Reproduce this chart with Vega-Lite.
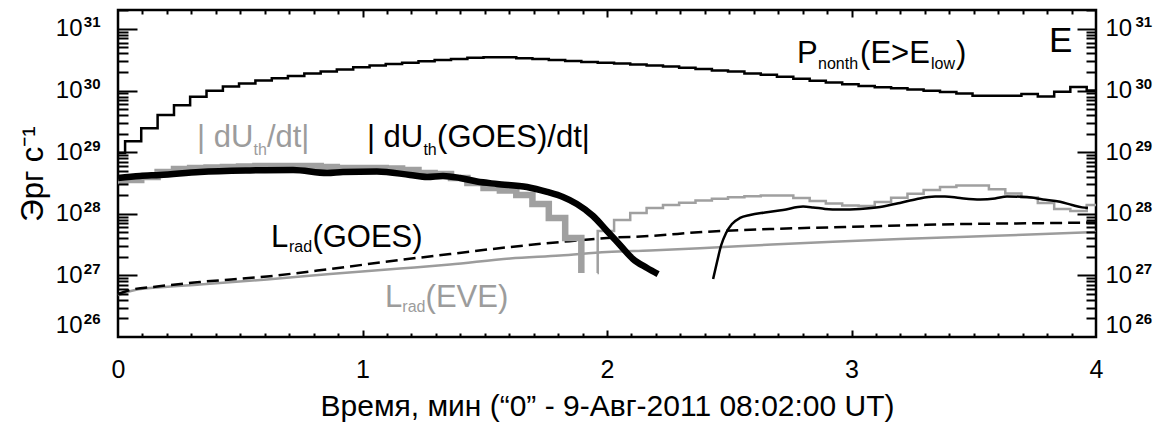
{
  "$schema": "https://vega.github.io/schema/vega-lite/v6.json",
  "width": 978,
  "height": 327,
  "autosize": {"type": "none"},
  "padding": {"left": 118, "top": 10, "right": 76, "bottom": 91},
  "background": "white",
  "config": {
    "view": {"stroke": "black", "strokeWidth": 2.5},
    "axis": {
      "grid": false,
      "domain": false,
      "labelFont": "Liberation Sans",
      "titleFont": "Liberation Sans",
      "labelColor": "black",
      "titleColor": "black",
      "tickColor": "black",
      "titleFontWeight": "normal",
      "labelOverlap": false,
      "labelFlush": false
    },
    "text": {"font": "Liberation Sans"}
  },
  "datasets": {
    "pnonth": [
      {"t": 0, "v": 9.7e28}, {"t": 0.029, "v": 1.5e29}, {"t": 0.095, "v": 2.45e29}, {"t": 0.162, "v": 4.0e29},
      {"t": 0.229, "v": 5.8e29}, {"t": 0.295, "v": 7.9e29}, {"t": 0.362, "v": 9.9e29}, {"t": 0.429, "v": 1.16e30},
      {"t": 0.495, "v": 1.3e30}, {"t": 0.562, "v": 1.45e30}, {"t": 0.629, "v": 1.58e30}, {"t": 0.695, "v": 1.73e30},
      {"t": 0.762, "v": 1.9e30}, {"t": 0.829, "v": 2.03e30}, {"t": 0.895, "v": 2.2e30}, {"t": 0.962, "v": 2.38e30},
      {"t": 1.029, "v": 2.54e30}, {"t": 1.095, "v": 2.7e30}, {"t": 1.162, "v": 2.84e30}, {"t": 1.229, "v": 2.99e30},
      {"t": 1.295, "v": 3.14e30}, {"t": 1.362, "v": 3.26e30}, {"t": 1.429, "v": 3.42e30}, {"t": 1.495, "v": 3.47e30},
      {"t": 1.562, "v": 3.47e30}, {"t": 1.629, "v": 3.34e30}, {"t": 1.695, "v": 3.26e30}, {"t": 1.762, "v": 3.14e30},
      {"t": 1.829, "v": 3.03e30}, {"t": 1.895, "v": 2.92e30}, {"t": 1.962, "v": 2.84e30}, {"t": 2.029, "v": 2.76e30},
      {"t": 2.095, "v": 2.66e30}, {"t": 2.162, "v": 2.56e30}, {"t": 2.229, "v": 2.45e30}, {"t": 2.295, "v": 2.34e30},
      {"t": 2.362, "v": 2.24e30}, {"t": 2.429, "v": 2.12e30}, {"t": 2.495, "v": 2.03e30}, {"t": 2.562, "v": 1.9e30},
      {"t": 2.629, "v": 1.8e30}, {"t": 2.695, "v": 1.67e30}, {"t": 2.762, "v": 1.55e30}, {"t": 2.829, "v": 1.44e30},
      {"t": 2.895, "v": 1.35e30}, {"t": 2.962, "v": 1.27e30}, {"t": 3.029, "v": 1.19e30}, {"t": 3.095, "v": 1.13e30},
      {"t": 3.162, "v": 1.09e30}, {"t": 3.229, "v": 1.04e30}, {"t": 3.295, "v": 9.96e29}, {"t": 3.362, "v": 9.5e29},
      {"t": 3.429, "v": 9.0e29}, {"t": 3.495, "v": 8.25e29}, {"t": 3.562, "v": 8.25e29}, {"t": 3.629, "v": 8.25e29},
      {"t": 3.695, "v": 8.8e29}, {"t": 3.762, "v": 8.0e29}, {"t": 3.829, "v": 9.6e29}, {"t": 3.895, "v": 1.14e30},
      {"t": 3.962, "v": 1.0e30}, {"t": 4.0, "v": 1.0e30}
    ],
    "dudt_rise": [
      {"t": 0, "v": 3.41e28}, {"t": 0.029, "v": 3.54e28}, {"t": 0.095, "v": 3.96e28}, {"t": 0.162, "v": 4.77e28},
      {"t": 0.229, "v": 5.34e28}, {"t": 0.295, "v": 5.54e28}, {"t": 0.362, "v": 5.65e28}, {"t": 0.429, "v": 5.75e28},
      {"t": 0.495, "v": 5.86e28}, {"t": 0.562, "v": 5.97e28}, {"t": 0.629, "v": 5.97e28}, {"t": 0.695, "v": 5.97e28},
      {"t": 0.762, "v": 5.97e28}, {"t": 0.829, "v": 5.75e28}, {"t": 0.895, "v": 5.54e28}, {"t": 0.962, "v": 5.54e28},
      {"t": 1.029, "v": 5.54e28}, {"t": 1.095, "v": 5.43e28}, {"t": 1.162, "v": 5.14e28}, {"t": 1.229, "v": 4.59e28},
      {"t": 1.295, "v": 4.43e28}, {"t": 1.362, "v": 3.81e28}, {"t": 1.429, "v": 3.16e28}, {"t": 1.495, "v": 2.62e28},
      {"t": 1.562, "v": 2.39e28}, {"t": 1.629, "v": 2.02e28}, {"t": 1.695, "v": 1.44e28}, {"t": 1.762, "v": 8.55e27},
      {"t": 1.829, "v": 4.05e27}, {"t": 1.895, "v": 1.09e27}
    ],
    "dudt_decay": [
      {"t": 1.961, "v": 1.09e27}, {"t": 1.962, "v": 5.26e27}, {"t": 2.029, "v": 7.93e27}, {"t": 2.095, "v": 1.03e28},
      {"t": 2.162, "v": 1.24e28}, {"t": 2.229, "v": 1.39e28}, {"t": 2.295, "v": 1.51e28}, {"t": 2.362, "v": 1.64e28},
      {"t": 2.429, "v": 1.76e28}, {"t": 2.495, "v": 1.85e28}, {"t": 2.562, "v": 1.92e28}, {"t": 2.629, "v": 1.98e28},
      {"t": 2.695, "v": 1.98e28}, {"t": 2.762, "v": 1.8e28}, {"t": 2.829, "v": 1.61e28}, {"t": 2.895, "v": 1.47e28},
      {"t": 2.962, "v": 1.36e28}, {"t": 3.029, "v": 1.34e28}, {"t": 3.095, "v": 1.55e28}, {"t": 3.162, "v": 1.82e28},
      {"t": 3.229, "v": 2.11e28}, {"t": 3.295, "v": 2.43e28}, {"t": 3.362, "v": 2.72e28}, {"t": 3.429, "v": 2.88e28},
      {"t": 3.495, "v": 2.88e28}, {"t": 3.562, "v": 2.5e28}, {"t": 3.629, "v": 2.14e28}, {"t": 3.695, "v": 1.84e28},
      {"t": 3.762, "v": 1.5e28}, {"t": 3.829, "v": 1.2e28}, {"t": 3.895, "v": 1.11e28}, {"t": 3.962, "v": 1.39e28},
      {"t": 4.0, "v": 1.39e28}
    ],
    "goes_rise": [
      {"t": 0, "v": 3.81e28}, {"t": 0.09, "v": 4.11e28}, {"t": 0.172, "v": 4.27e28}, {"t": 0.335, "v": 4.77e28},
      {"t": 0.54, "v": 5.05e28}, {"t": 0.716, "v": 5.14e28}, {"t": 0.855, "v": 4.6e28}, {"t": 0.92, "v": 4.77e28},
      {"t": 1.059, "v": 4.86e28}, {"t": 1.194, "v": 4.27e28}, {"t": 1.264, "v": 3.96e28}, {"t": 1.329, "v": 4.11e28},
      {"t": 1.399, "v": 3.81e28}, {"t": 1.468, "v": 3.34e28}, {"t": 1.55, "v": 3.05e28}, {"t": 1.673, "v": 2.72e28},
      {"t": 1.755, "v": 2.26e28}, {"t": 1.82, "v": 1.87e28}, {"t": 1.877, "v": 1.44e28}, {"t": 1.943, "v": 9.2e27},
      {"t": 2.0, "v": 5.26e27}, {"t": 2.053, "v": 3.12e27}, {"t": 2.106, "v": 1.85e27}, {"t": 2.164, "v": 1.32e27},
      {"t": 2.209, "v": 1.05e27}
    ],
    "goes_decay": [
      {"t": 2.434, "v": 8.75e26}, {"t": 2.45, "v": 1.65e27}, {"t": 2.466, "v": 3.0e27}, {"t": 2.487, "v": 4.88e27},
      {"t": 2.511, "v": 6.83e27}, {"t": 2.544, "v": 8.55e27}, {"t": 2.585, "v": 9.57e27}, {"t": 2.646, "v": 1.05e28},
      {"t": 2.72, "v": 1.15e28}, {"t": 2.802, "v": 1.31e28}, {"t": 2.843, "v": 1.27e28}, {"t": 2.892, "v": 1.2e28},
      {"t": 2.953, "v": 1.17e28}, {"t": 3.035, "v": 1.2e28}, {"t": 3.117, "v": 1.29e28}, {"t": 3.198, "v": 1.5e28},
      {"t": 3.268, "v": 1.74e28}, {"t": 3.342, "v": 1.91e28}, {"t": 3.382, "v": 1.91e28}, {"t": 3.444, "v": 1.8e28},
      {"t": 3.526, "v": 1.71e28}, {"t": 3.587, "v": 1.77e28}, {"t": 3.636, "v": 1.91e28}, {"t": 3.718, "v": 1.87e28},
      {"t": 3.783, "v": 1.71e28}, {"t": 3.853, "v": 1.57e28}, {"t": 3.902, "v": 1.39e28}, {"t": 3.943, "v": 1.27e28},
      {"t": 3.967, "v": 1.24e28}
    ],
    "lrad_goes": [
      {"t": 0, "v": 4.99e26}, {"t": 0.049, "v": 5.79e26}, {"t": 0.16, "v": 6.61e26}, {"t": 0.335, "v": 7.81e26},
      {"t": 0.609, "v": 9.6e26}, {"t": 0.867, "v": 1.27e27}, {"t": 1.153, "v": 1.78e27}, {"t": 1.358, "v": 2.22e27},
      {"t": 1.603, "v": 2.89e27}, {"t": 1.808, "v": 3.48e27}, {"t": 2.0, "v": 4.05e27}, {"t": 2.176, "v": 4.36e27},
      {"t": 2.393, "v": 5.07e27}, {"t": 2.675, "v": 5.67e27}, {"t": 2.924, "v": 6.04e27}, {"t": 3.198, "v": 6.46e27},
      {"t": 3.472, "v": 6.83e27}, {"t": 3.73, "v": 7.01e27}, {"t": 4.0, "v": 7.22e27}
    ],
    "lrad_eve": [
      {"t": 0, "v": 4.81e26}, {"t": 0.07, "v": 5.79e26}, {"t": 0.172, "v": 6.41e26}, {"t": 0.335, "v": 7.11e26},
      {"t": 0.609, "v": 8.58e26}, {"t": 0.867, "v": 1.05e27}, {"t": 1.153, "v": 1.29e27}, {"t": 1.358, "v": 1.5e27},
      {"t": 1.603, "v": 1.88e27}, {"t": 1.808, "v": 2.1e27}, {"t": 2.0, "v": 2.4e27}, {"t": 2.176, "v": 2.54e27},
      {"t": 2.38, "v": 2.75e27}, {"t": 2.675, "v": 3.17e27}, {"t": 2.924, "v": 3.52e27}, {"t": 3.198, "v": 3.9e27},
      {"t": 3.472, "v": 4.25e27}, {"t": 3.73, "v": 4.61e27}, {"t": 4.0, "v": 5.07e27}
    ],
    "labels": [
      {"t": 0.323, "v": 1.2e29, "text": "| dU", "kind": "grayMain"},
      {"t": 0.554, "v": 9.0e28, "text": "th", "kind": "graySub"},
      {"t": 0.609, "v": 1.2e29, "text": "/dt|", "kind": "grayMain"},
      {"t": 1.018, "v": 1.2e29, "text": "| dU", "kind": "blackMain"},
      {"t": 1.249, "v": 9.0e28, "text": "th", "kind": "blackSub"},
      {"t": 1.305, "v": 1.2e29, "text": "(GOES)/dt|", "kind": "blackMain"},
      {"t": 2.777, "v": 2.77e30, "text": "P", "kind": "blackMain"},
      {"t": 2.863, "v": 2.2e30, "text": "nonth", "kind": "blackSub"},
      {"t": 3.035, "v": 2.77e30, "text": "(E>E", "kind": "blackMain"},
      {"t": 3.325, "v": 2.2e30, "text": "low", "kind": "blackSub"},
      {"t": 3.427, "v": 2.77e30, "text": ")", "kind": "blackMain"},
      {"t": 0.626, "v": 2.92e27, "text": "L", "kind": "blackMain"},
      {"t": 0.699, "v": 2.4e27, "text": "rad", "kind": "blackSub"},
      {"t": 0.795, "v": 2.92e27, "text": "(GOES)", "kind": "blackMain"},
      {"t": 1.092, "v": 3.1e26, "text": "L", "kind": "grayMain"},
      {"t": 1.163, "v": 2.55e26, "text": "rad", "kind": "graySub"},
      {"t": 1.258, "v": 3.1e26, "text": "(EVE)", "kind": "grayMain"},
      {"t": 3.808, "v": 4.24e30, "text": "E", "kind": "panel"}
    ]
  },
  "resolve": {"axis": {"x": "independent", "y": "independent"}},
  "layer": [
    {
      "data": {"name": "lrad_eve"},
      "mark": {"type": "line", "color": "#9c9c9c", "strokeWidth": 2.5, "interpolate": "monotone"},
      "encoding": {
        "x": {"field": "t", "type": "quantitative", "scale": {"domain": [0, 4], "nice": false, "zero": false},
          "axis": {"orient": "bottom", "values": [0, 1, 2, 3, 4], "format": "d", "ticks": false, "labelFontSize": 25, "labelPadding": 20,
            "title": "Время, мин (“0” - 9-Авг-2011 08:02:00 UT)", "titleFontSize": 30, "titlePadding": 9}},
        "y": {"field": "v", "type": "quantitative", "scale": {"type": "log", "domain": [1e26, 2.03e31], "nice": false},
          "axis": {"orient": "left", "values": [1e26, 1e27, 1e28, 1e29, 1e30, 1e31], "ticks": false, "labelExpr": "'10'",
            "labelFontSize": 24, "labelPadding": 36, "labelFlush": true, "title": "Эрг с⁻¹", "titleFontSize": 31, "titlePadding": 6}}
      }
    },
    {
      "data": {"name": "lrad_goes"},
      "mark": {"type": "line", "color": "black", "strokeWidth": 2.5, "strokeDash": [12, 6], "interpolate": "monotone"},
      "encoding": {
        "x": {"field": "t", "type": "quantitative", "scale": {"domain": [0, 4], "nice": false, "zero": false},
          "axis": {"orient": "bottom", "values": [1, 2, 3], "labels": false, "tickSize": -7, "tickWidth": 2, "title": null, "zindex": 1}},
        "y": {"field": "v", "type": "quantitative", "scale": {"type": "log", "domain": [1e26, 2.03e31], "nice": false},
          "axis": {"orient": "left", "values": [1e26, 1e27, 1e28, 1e29, 1e30, 1e31], "ticks": false,
            "labelExpr": "'' + round(log(datum.value) / LN10)", "labelFontSize": 15, "labelFontWeight": "bold",
            "labelPadding": 18, "labelOffset": -7, "labelFlush": true, "labelFlushOffset": -4, "title": null}}
      }
    },
    {
      "data": {"name": "dudt_rise"},
      "mark": {"type": "line", "color": "#a0a0a0", "strokeWidth": 6.5, "interpolate": "step-after", "strokeCap": "butt"},
      "encoding": {
        "x": {"field": "t", "type": "quantitative", "scale": {"domain": [0, 4], "nice": false, "zero": false},
          "axis": {"orient": "bottom", "values": [0.1, 0.2, 0.3, 0.4, 0.5, 0.6, 0.7, 0.8, 0.9, 1.1, 1.2, 1.3, 1.4, 1.5, 1.6, 1.7, 1.8, 1.9, 2.1, 2.2, 2.3, 2.4, 2.5, 2.6, 2.7, 2.8, 2.9, 3.1, 3.2, 3.3, 3.4, 3.5, 3.6, 3.7, 3.8, 3.9],
            "labels": false, "tickSize": -4, "tickWidth": 2, "title": null, "zindex": 1}},
        "y": {"field": "v", "type": "quantitative", "scale": {"type": "log", "domain": [1e26, 2.03e31], "nice": false},
          "axis": {"orient": "left", "values": [1e27, 1e28, 1e29, 1e30, 1e31], "labels": false, "tickSize": -19, "tickWidth": 2, "title": null, "zindex": 1}}
      }
    },
    {
      "data": {"name": "dudt_decay"},
      "mark": {"type": "line", "color": "#a0a0a0", "strokeWidth": 2.5, "interpolate": "step-after", "strokeCap": "butt"},
      "encoding": {
        "x": {"field": "t", "type": "quantitative", "scale": {"domain": [0, 4], "nice": false, "zero": false},
          "axis": {"orient": "top", "values": [1, 2, 3], "labels": false, "tickSize": -7, "tickWidth": 2, "title": null, "zindex": 1}},
        "y": {"field": "v", "type": "quantitative", "scale": {"type": "log", "domain": [1e26, 2.03e31], "nice": false},
          "axis": {"orient": "left", "values": [2e26, 3e26, 4e26, 5e26, 6e26, 7e26, 8e26, 9e26, 2e27, 3e27, 4e27, 5e27, 6e27, 7e27, 8e27, 9e27, 2e28, 3e28, 4e28, 5e28, 6e28, 7e28, 8e28, 9e28, 2e29, 3e29, 4e29, 5e29, 6e29, 7e29, 8e29, 9e29, 2e30, 3e30, 4e30, 5e30, 6e30, 7e30, 8e30, 9e30, 2e31],
            "labels": false, "tickSize": -10, "tickWidth": 2, "title": null, "zindex": 1}}
      }
    },
    {
      "data": {"name": "pnonth"},
      "mark": {"type": "line", "color": "black", "strokeWidth": 2.5, "interpolate": "step-after", "strokeCap": "butt"},
      "encoding": {
        "x": {"field": "t", "type": "quantitative", "scale": {"domain": [0, 4], "nice": false, "zero": false},
          "axis": {"orient": "top", "values": [0.1, 0.2, 0.3, 0.4, 0.5, 0.6, 0.7, 0.8, 0.9, 1.1, 1.2, 1.3, 1.4, 1.5, 1.6, 1.7, 1.8, 1.9, 2.1, 2.2, 2.3, 2.4, 2.5, 2.6, 2.7, 2.8, 2.9, 3.1, 3.2, 3.3, 3.4, 3.5, 3.6, 3.7, 3.8, 3.9],
            "labels": false, "tickSize": -4, "tickWidth": 2, "title": null, "zindex": 1}},
        "y": {"field": "v", "type": "quantitative", "scale": {"type": "log", "domain": [1e26, 2.03e31], "nice": false},
          "axis": {"orient": "right", "values": [1e26, 1e27, 1e28, 1e29, 1e30, 1e31], "ticks": false, "labelExpr": "'10'",
            "labelFontSize": 24, "labelPadding": 9, "labelFlush": true, "title": null}}
      }
    },
    {
      "data": {"name": "goes_rise"},
      "mark": {"type": "line", "color": "black", "strokeWidth": 6.5, "interpolate": "monotone", "strokeCap": "butt"},
      "encoding": {
        "x": {"field": "t", "type": "quantitative", "scale": {"domain": [0, 4], "nice": false, "zero": false}, "axis": null},
        "y": {"field": "v", "type": "quantitative", "scale": {"type": "log", "domain": [1e26, 2.03e31], "nice": false},
          "axis": {"orient": "right", "values": [1e26, 1e27, 1e28, 1e29, 1e30, 1e31], "ticks": false,
            "labelExpr": "'' + round(log(datum.value) / LN10)", "labelFontSize": 15, "labelFontWeight": "bold",
            "labelPadding": 39, "labelOffset": -7, "labelFlush": true, "labelFlushOffset": -4, "title": null}}
      }
    },
    {
      "data": {"name": "goes_decay"},
      "mark": {"type": "line", "color": "black", "strokeWidth": 2.5, "interpolate": "monotone"},
      "encoding": {
        "x": {"field": "t", "type": "quantitative", "scale": {"domain": [0, 4], "nice": false, "zero": false}, "axis": null},
        "y": {"field": "v", "type": "quantitative", "scale": {"type": "log", "domain": [1e26, 2.03e31], "nice": false},
          "axis": {"orient": "right", "values": [1e27, 1e28, 1e29, 1e30, 1e31], "labels": false, "tickSize": -19, "tickWidth": 2, "title": null, "zindex": 1}}
      }
    },
    {
      "data": {"name": "labels"},
      "transform": [{"filter": "datum.kind === 'blackMain'"}],
      "mark": {"type": "text", "align": "left", "baseline": "alphabetic", "fontSize": 31, "color": "black"},
      "encoding": {
        "x": {"field": "t", "type": "quantitative", "scale": {"domain": [0, 4], "nice": false, "zero": false}, "axis": null},
        "y": {"field": "v", "type": "quantitative", "scale": {"type": "log", "domain": [1e26, 2.03e31], "nice": false},
          "axis": {"orient": "right", "values": [2e26, 3e26, 4e26, 5e26, 6e26, 7e26, 8e26, 9e26, 2e27, 3e27, 4e27, 5e27, 6e27, 7e27, 8e27, 9e27, 2e28, 3e28, 4e28, 5e28, 6e28, 7e28, 8e28, 9e28, 2e29, 3e29, 4e29, 5e29, 6e29, 7e29, 8e29, 9e29, 2e30, 3e30, 4e30, 5e30, 6e30, 7e30, 8e30, 9e30, 2e31],
            "labels": false, "tickSize": -10, "tickWidth": 2, "title": null, "zindex": 1}},
        "text": {"field": "text"}
      }
    },
    {
      "data": {"name": "labels"},
      "transform": [{"filter": "datum.kind === 'grayMain'"}],
      "mark": {"type": "text", "align": "left", "baseline": "alphabetic", "fontSize": 31, "color": "#9c9c9c"},
      "encoding": {
        "x": {"field": "t", "type": "quantitative", "scale": {"domain": [0, 4], "nice": false, "zero": false}, "axis": null},
        "y": {"field": "v", "type": "quantitative", "scale": {"type": "log", "domain": [1e26, 2.03e31], "nice": false}, "axis": null},
        "text": {"field": "text"}
      }
    },
    {
      "data": {"name": "labels"},
      "transform": [{"filter": "datum.kind === 'blackSub'"}],
      "mark": {"type": "text", "align": "left", "baseline": "alphabetic", "fontSize": 16, "color": "black"},
      "encoding": {
        "x": {"field": "t", "type": "quantitative", "scale": {"domain": [0, 4], "nice": false, "zero": false}, "axis": null},
        "y": {"field": "v", "type": "quantitative", "scale": {"type": "log", "domain": [1e26, 2.03e31], "nice": false}, "axis": null},
        "text": {"field": "text"}
      }
    },
    {
      "data": {"name": "labels"},
      "transform": [{"filter": "datum.kind === 'graySub'"}],
      "mark": {"type": "text", "align": "left", "baseline": "alphabetic", "fontSize": 16, "color": "#9c9c9c"},
      "encoding": {
        "x": {"field": "t", "type": "quantitative", "scale": {"domain": [0, 4], "nice": false, "zero": false}, "axis": null},
        "y": {"field": "v", "type": "quantitative", "scale": {"type": "log", "domain": [1e26, 2.03e31], "nice": false}, "axis": null},
        "text": {"field": "text"}
      }
    },
    {
      "data": {"name": "labels"},
      "transform": [{"filter": "datum.kind === 'panel'"}],
      "mark": {"type": "text", "align": "left", "baseline": "alphabetic", "fontSize": 35, "color": "black"},
      "encoding": {
        "x": {"field": "t", "type": "quantitative", "scale": {"domain": [0, 4], "nice": false, "zero": false}, "axis": null},
        "y": {"field": "v", "type": "quantitative", "scale": {"type": "log", "domain": [1e26, 2.03e31], "nice": false}, "axis": null},
        "text": {"field": "text"}
      }
    }
  ]
}
